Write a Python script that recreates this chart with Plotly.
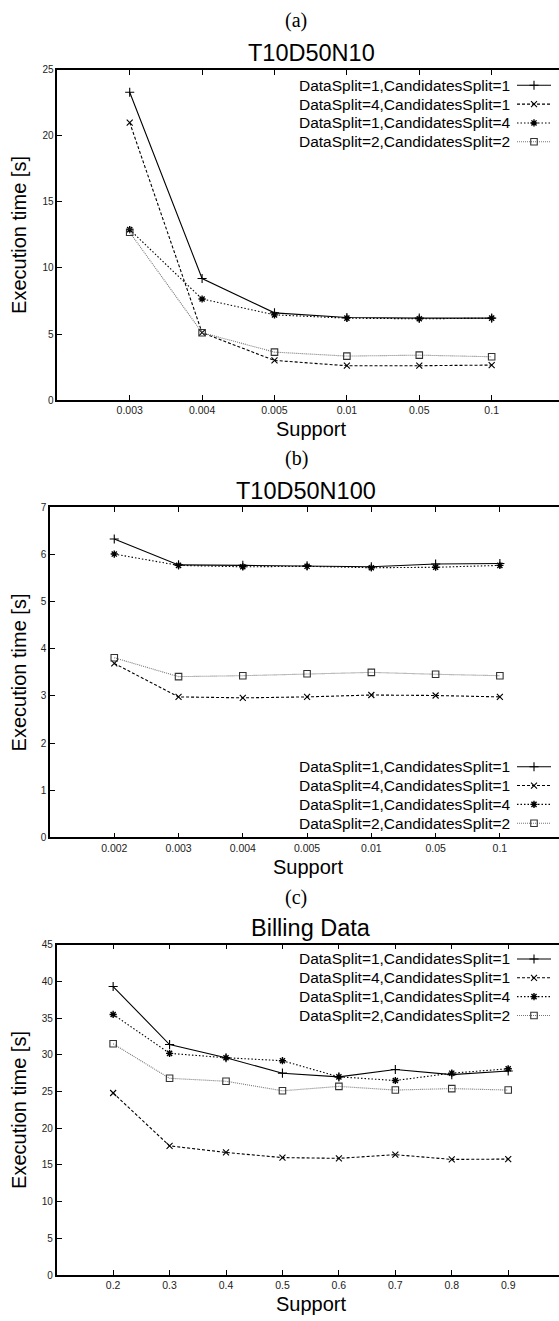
import plotly.graph_objects as go

# ---- data -------------------------------------------------------------
series_names = [
    "DataSplit=1,CandidatesSplit=1",
    "DataSplit=4,CandidatesSplit=1",
    "DataSplit=1,CandidatesSplit=4",
    "DataSplit=2,CandidatesSplit=2",
]

# (a) T10D50N10
support_a = ["0.003", "0.004", "0.005", "0.01", "0.05", "0.1"]
a_ds1_cs1 = [23.3, 9.2, 6.6, 6.25, 6.2, 6.2]
a_ds4_cs1 = [21.0, 5.1, 3.0, 2.6, 2.6, 2.65]
a_ds1_cs4 = [12.9, 7.65, 6.45, 6.2, 6.15, 6.2]
a_ds2_cs2 = [12.7, 5.1, 3.63, 3.33, 3.4, 3.28]

# (b) T10D50N100
support_b = ["0.002", "0.003", "0.004", "0.005", "0.01", "0.05", "0.1"]
b_ds1_cs1 = [6.33, 5.78, 5.77, 5.76, 5.74, 5.80, 5.81]
b_ds4_cs1 = [3.69, 2.98, 2.96, 2.98, 3.02, 3.01, 2.98]
b_ds1_cs4 = [6.01, 5.77, 5.74, 5.75, 5.72, 5.73, 5.77]
b_ds2_cs2 = [3.81, 3.41, 3.43, 3.47, 3.50, 3.46, 3.43]

# (c) Billing Data
support_c = [0.2, 0.3, 0.4, 0.5, 0.6, 0.7, 0.8, 0.9]
c_ds1_cs1 = [39.3, 31.4, 29.6, 27.5, 27.0, 28.0, 27.3, 27.8]
c_ds4_cs1 = [24.8, 17.6, 16.7, 16.0, 15.9, 16.4, 15.75, 15.8]
c_ds1_cs4 = [35.5, 30.2, 29.6, 29.2, 27.0, 26.5, 27.5, 28.1]
c_ds2_cs2 = [31.5, 26.8, 26.4, 25.1, 25.7, 25.2, 25.4, 25.2]

panel_labels = ["(a)", "(b)", "(c)"]
panel_titles = ["T10D50N10", "T10D50N100", "Billing Data"]

# ---- styles -----------------------------------------------------------
W, H = 559, 1321
SANS = "Liberation Sans, Arial, sans-serif"
SERIF = "Liberation Serif, DejaVu Serif, serif"

styles = [
    dict(line=dict(color="#000", width=1.1, dash="solid"),
         marker=dict(symbol="cross-thin-open", size=6.5, color="#000",
                     line=dict(color="#000", width=1.1))),
    dict(line=dict(color="#000", width=1.1, dash="3px,2px"),
         marker=dict(symbol="x-thin-open", size=6, color="#000",
                     line=dict(color="#000", width=1.1))),
    dict(line=dict(color="#000", width=1.1, dash="1.5px,2px"),
         marker=dict(symbol="asterisk-open", size=6, color="#000",
                     line=dict(color="#000", width=1.4))),
    dict(line=dict(color="#777", width=1.1, dash="1px,1px"),
         marker=dict(symbol="square-open", size=6.5, color="#333",
                     line=dict(color="#333", width=1.1))),
]

# pixel layout of the three panels: (left, top, bottom) of the plot box
boxes = [(57.3, 64.3, 397.7), (50.0, 506.0, 839.0), (56.7, 947.3, 1280.7)]
xranges = [[-1, 5.93], [-1, 6.92], [0.1, 0.99]]
yranges = [[0, 25], [0, 7], [0, 45]]
ydticks = [5, 1, 5]
label_pos = [(296, 15), (296, 457), (296, 900)]
title_pos = [(311, 47), (306, 489), (311, 930.5)]
legend_top = [80.0, 767.7, 961.7]
LEG_DY = 19

panels = [
    (list(range(len(support_a))), support_a, [a_ds1_cs1, a_ds4_cs1, a_ds1_cs4, a_ds2_cs2]),
    (list(range(len(support_b))), support_b, [b_ds1_cs1, b_ds4_cs1, b_ds1_cs4, b_ds2_cs2]),
    (support_c, [f"{v:.1f}" for v in support_c], [c_ds1_cs1, c_ds4_cs1, c_ds1_cs4, c_ds2_cs2]),
]

fig = go.Figure()
layout = dict(
    width=W, height=H, margin=dict(l=0, r=0, t=0, b=0),
    paper_bgcolor="white", plot_bgcolor="rgba(0,0,0,0)", showlegend=False,
)
annotations = []

for p, (xs, xlabels, ys_list) in enumerate(panels):
    left, top, bottom = boxes[p]
    suffix = "" if p == 0 else str(p + 1)
    xa, ya = "x" + suffix, "y" + suffix
    for s, ys in enumerate(ys_list):
        fig.add_trace(go.Scatter(
            x=xs, y=ys, mode="lines+markers", name=series_names[s],
            xaxis=xa, yaxis=ya, **styles[s]))

    layout["xaxis" + suffix] = dict(
        domain=[left / W, 1], anchor=ya, range=xranges[p],
        tickmode="array", tickvals=xs, ticktext=xlabels,
        showline=True, linecolor="#000", linewidth=1.6, mirror="ticks",
        ticks="inside", ticklen=5, tickwidth=1, tickcolor="#000",
        showgrid=False, zeroline=False,
        tickfont=dict(family=SANS, size=10.5, color="#222"),
    )
    layout["yaxis" + suffix] = dict(
        domain=[1 - bottom / H, 1 - top / H], anchor=xa, range=yranges[p],
        dtick=ydticks[p], tick0=0,
        showline=True, linecolor="#000", linewidth=1.6, mirror=False,
        ticks="inside", ticklen=5, tickwidth=1, tickcolor="#000",
        showgrid=False, zeroline=False,
        tickfont=dict(family=SANS, size=10, color="#222"),
    )

    cx = (left + 565) / 2
    annotations += [
        dict(x=label_pos[p][0], y=label_pos[p][1], text=panel_labels[p],
             font=dict(family=SERIF, size=20, color="#000")),
        dict(x=title_pos[p][0], y=title_pos[p][1], text=panel_titles[p],
             font=dict(family=SANS, size=23.5, color="#000")),
        dict(x=cx, y=bottom + 29.5, text="Support",
             font=dict(family=SANS, size=20, color="#000")),
        dict(x=19, y=(top + bottom) / 2, text="Execution time [s]", textangle=-90,
             font=dict(family=SANS, size=20, color="#000")),
    ]

    # key: right-aligned text followed by a line sample with its marker
    for s in range(4):
        ry = legend_top[p] + s * LEG_DY
        annotations.append(dict(
            x=511.5, y=ry, text=series_names[s], xanchor="right",
            font=dict(family=SANS, size=15.5, color="#000")))
        fig.add_trace(go.Scatter(
            x=[517, 551], y=[ry, ry], mode="lines", xaxis="x4", yaxis="y4",
            line=styles[s]["line"], hoverinfo="skip"))
        fig.add_trace(go.Scatter(
            x=[534], y=[ry], mode="markers", xaxis="x4", yaxis="y4",
            marker=styles[s]["marker"], hoverinfo="skip"))

for a in annotations:
    a.update(xref="x4", yref="y4", showarrow=False)
    a.setdefault("xanchor", "center")
    a.setdefault("yanchor", "middle")

# full-page pixel frame used for titles and the keys
layout["xaxis4"] = dict(domain=[0, 1], range=[0, W], visible=False, anchor="y4")
layout["yaxis4"] = dict(domain=[0, 1], range=[H, 0], visible=False, anchor="x4")
layout["annotations"] = annotations

fig.update_layout(**layout)
fig.write_html("out.html")
